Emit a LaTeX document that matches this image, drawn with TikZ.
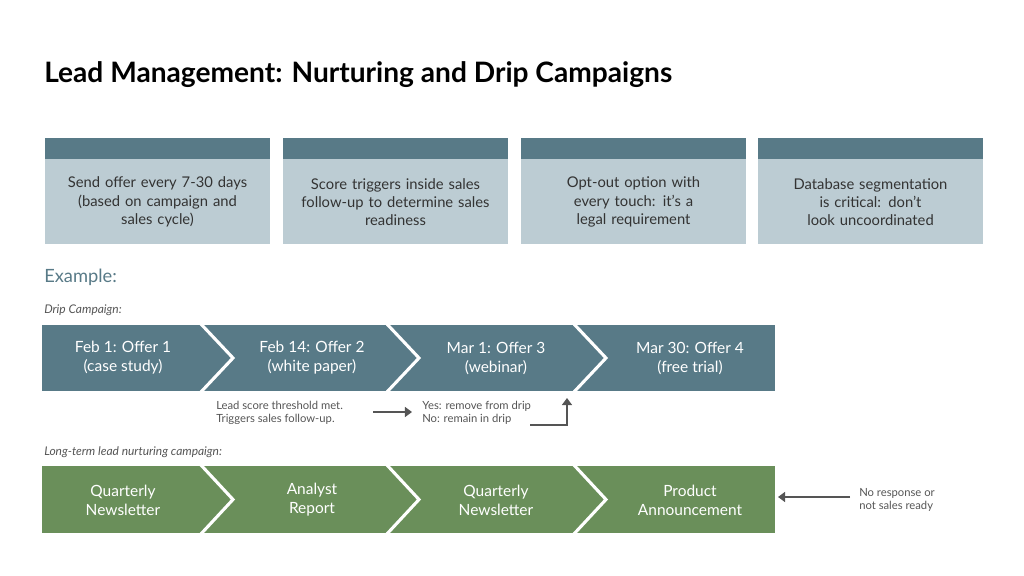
\documentclass[tikz,border=0pt]{standalone}
\usepackage{fontspec}
\setmainfont{Lato}
\usetikzlibrary{arrows.meta,positioning}
\definecolor{slate}{HTML}{587A87}
\definecolor{paleslate}{HTML}{BCCCD3}
\definecolor{leaf}{HTML}{6A8F5A}
\definecolor{ink}{HTML}{333333}
\definecolor{note}{HTML}{555555}
\tikzset{
  tip/.style={text width=5.2cm, align=center, font=\fontsize{10.5}{13}\selectfont, text=ink},
  stage/.style={align=center, text=white, font=\fontsize{11}{13.5}\selectfont},
  small/.style={align=left, text=note, font=\fontsize{8}{9.5}\selectfont, inner sep=0pt},
  cut/.style={white, line width=2.2pt},
  pointer/.style={-{Triangle[length=5pt,width=7pt]}, note, line width=1.6pt}
}
\begin{document}
\begin{tikzpicture}[x=0.025cm, y=-0.025cm]
\useasboundingbox (0,0) rectangle (1024,576);

\node[anchor=west, font=\fontsize{20}{24}\selectfont\bfseries, inner sep=0pt] (title) at (44,75) {Lead Management: Nurturing and Drip Campaigns};

% tips
\foreach \x/\t [count=\i] in {45/{Send offer every 7-30 days\\(based on campaign and\\sales cycle)},
  283/{Score triggers inside sales\\follow-up to determine sales\\readiness},
  521/{Opt-out option with\\every touch: it's a\\legal requirement},
  758/{Database segmentation\\is critical: don't\\look uncoordinated}}{
  \fill[slate] (\x,138) rectangle ++(225,21);
  \fill[paleslate] (\x,159) rectangle ++(225,85);
  \node[tip] (tip\i) at (\x+112.5,202) {\t};
}

\node[anchor=west, inner sep=0pt, text=slate, font=\fontsize{13}{15}\selectfont] (example) at (44,277) {Example:};
\node[anchor=west, inner sep=0pt, text=note, font=\fontsize{8.5}{10}\selectfont\itshape] (driplabel) at (44,310) {Drip Campaign:};
\node[anchor=west, inner sep=0pt, text=note, font=\fontsize{8.5}{10}\selectfont\itshape] (longlabel) at (44,452) {Long-term lead nurturing campaign:};

% drip chevrons
\fill[slate] (42,325) rectangle (775,391);
\foreach \x in {200,386,573}
  \draw[cut] (\x,323) -- (\x+33,358) -- (\x,393);
\node[stage] (drip1) at (123,358) {Feb 1: Offer 1\\(case study)};
\node[stage] (drip2) at (312,358) {Feb 14: Offer 2\\(white paper)};
\node[stage] (drip3) at (496,358) {Mar 1: Offer 3\\(webinar)};
\node[stage] (drip4) at (690,358) {Mar 30: Offer 4\\(free trial)};

% nurture chevrons
\fill[leaf] (42,466) rectangle (775,533);
\foreach \x in {200,386,573}
  \draw[cut] (\x,464) -- (\x+33,499.5) -- (\x,535);
\node[stage] (nur1) at (123,500) {Quarterly\\Newsletter};
\node[stage] (nur2) at (312,500) {Analyst\\Report};
\node[stage] (nur3) at (496,500) {Quarterly\\Newsletter};
\node[stage] (nur4) at (690,500) {Product\\Announcement};

% notes
\node[small, anchor=west] (score) at (216,413) {Lead score threshold met.\\Triggers sales follow-up.};
\node[small, anchor=west] (result) at (422,413) {Yes: remove from drip\\No: remain in drip};
\node[small, anchor=west] (noresp) at (859,500) {No response or\\not sales ready};
\coordinate (go0) at (373,412);
\coordinate (go1) at (412,412);
\coordinate (foot) at (530,425);
\coordinate (bend) at (567,425);
\coordinate (rise) at (567,398);
\coordinate (back0) at (850,497);
\coordinate (back1) at (778,497);

\draw[pointer] (go0) -- (go1);
\draw[pointer] (foot) -- (bend) -- (rise);
\draw[pointer] (back0) -- (back1);
\end{tikzpicture}
\end{document}
